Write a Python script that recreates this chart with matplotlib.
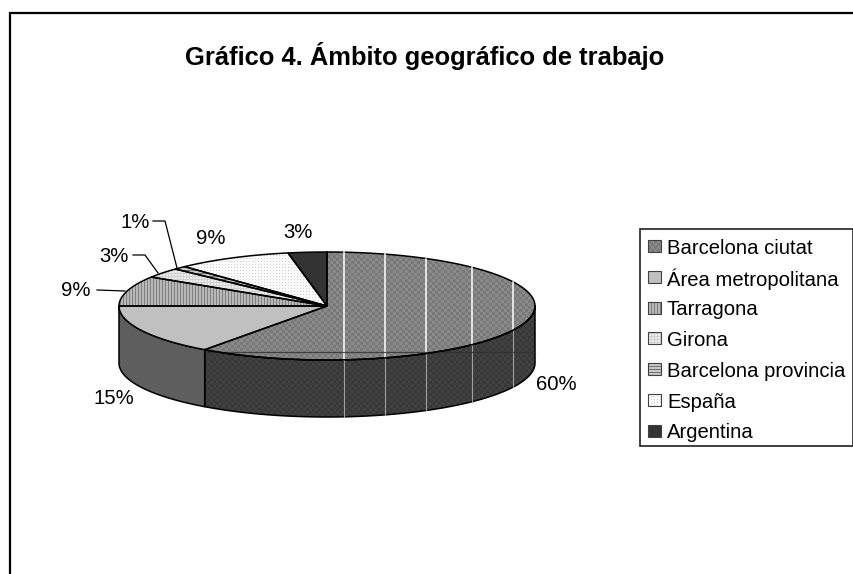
import numpy as np
import matplotlib
matplotlib.use("Agg")
import matplotlib.pyplot as plt
from matplotlib.patches import Polygon, Rectangle

plt.rcParams['font.family'] = ['Liberation Sans', 'DejaVu Sans']

title = 'Gráfico 4. Ámbito geográfico de trabajo'
categories = ['Barcelona ciutat', 'Área metropolitana', 'Tarragona', 'Girona',
              'Barcelona provincia', 'España', 'Argentina']
values = [60, 15, 9, 3, 1, 9, 3]
pct_labels = ['60%', '15%', '9%', '3%', '1%', '9%', '3%']
textures = ['checker', 'solid_light', 'vstripes', 'grid', 'hstripes', 'dots', 'solid_dark']

W, H = 854, 574
cx, cy, rx, ry, depth = 327, 306, 208, 54, 57

fig = plt.figure(figsize=(W / 100, H / 100), dpi=100)
ax = fig.add_axes([0, 0, 1, 1])
ax.set_xlim(0, W)
ax.set_ylim(H, 0)
ax.axis('off')

yy, xx = np.mgrid[0:H, 0:W]


def texture(name, dark=False):
    # pixel patterns, the office-chart fills
    if name == 'checker':
        t = np.where(((xx // 3) + (yy // 3)) % 2 == 0, 0.47, 0.54)
        if dark:
            t = np.where(((xx // 3) + (yy // 3)) % 2 == 0, 0.22, 0.26)
    elif name == 'solid_light':
        t = np.full(xx.shape, 0.75)
    elif name == 'solid_side':
        t = np.full(xx.shape, 0.37)
    elif name == 'vstripes':
        t = np.where(xx % 3 == 0, 0.5, 0.72)
    elif name == 'grid':
        t = np.where((xx % 3 == 0) | (yy % 3 == 0), 0.82, 0.93)
    elif name == 'hstripes':
        t = np.where(yy % 3 == 0, 0.45, 0.78)
    elif name == 'dots':
        t = np.where((xx % 3 == 0) & (yy % 3 == 0), 0.82, 0.98)
    else:
        t = np.full(xx.shape, 0.2)
    return t


def fill(patch, name, dark=False, lw=1.1, edge='black'):
    ax.add_patch(patch)
    patch.set_facecolor('none')
    patch.set_edgecolor('none')
    im = ax.imshow(texture(name, dark), cmap='gray', vmin=0, vmax=1, extent=(0, W, H, 0),
                   interpolation='bilinear', aspect='auto', zorder=patch.get_zorder())
    im.set_clip_path(patch)
    line = Polygon(patch.get_xy(), closed=True, fc='none', ec=edge, lw=lw, zorder=patch.get_zorder() + 0.1)
    ax.add_patch(line)


def rim(a0, a1, dy=0):
    # a is in degrees, clockwise from 12 o'clock
    a = np.radians(np.linspace(a0, a1, 120))
    return np.column_stack([cx + rx * np.sin(a), cy - ry * np.cos(a) + dy])


angles = np.concatenate([[0], np.cumsum(values)]) * 3.6

# side wall, only the front half is seen
for i in range(len(values)):
    a0, a1 = max(angles[i], 90), min(angles[i + 1], 270)
    if a0 >= a1:
        continue
    pts = np.vstack([rim(a0, a1), rim(a0, a1, depth)[::-1]])
    if i == 0:
        fill(Polygon(pts, closed=True, zorder=2), 'checker', dark=True)
    else:
        fill(Polygon(pts, closed=True, zorder=2), 'solid_side')

# top slices
for i in range(len(values)):
    pts = np.vstack([[cx, cy], rim(angles[i], angles[i + 1])])
    fill(Polygon(pts, closed=True, zorder=3), textures[i])

# white vertical lines and the dark one that cross the first slice
band_x = [344, 385, 426, 472, 513]
for x in band_x:
    s = (x - cx) / rx
    y0 = cy - ry * np.sqrt(1 - s ** 2)
    y1 = cy + ry * np.sqrt(1 - s ** 2)
    ax.plot([x, x], [y0, y1], color='white', lw=1.1, zorder=4)
    ax.plot([x, x], [y1, y1 + depth], color='#a0a0a0', lw=0.8, zorder=4)
ax.plot([207, 535], [352, 352], color='#303030', lw=0.9, alpha=0.8, zorder=4)
ax.plot(*rim(90, 216).T, color='black', lw=1.1, zorder=4.5)

# frame, it runs off the picture on the right and at the bottom
ax.plot([10, 10, W + 5], [H + 5, 13, 13], color='black', lw=1.6, solid_joinstyle='miter', zorder=1)

ax.text(425, 56, title, ha='center', va='center', fontsize=18.4, fontweight='bold', color='black')

label_pos = [(556, 385), (114, 398), (76, 290), (114, 256), (135, 223), (211, 238), (298, 233)]
for s, (x, y) in zip(pct_labels, label_pos):
    ax.text(x, y, s, ha='center', va='center', fontsize=14.6, color='black')

leaders = [[(97, 290), (125, 291)],
           [(133, 255), (145, 255), (158, 273)],
           [(153, 221), (165, 221), (177, 268)]]
for pts in leaders:
    ax.plot(*zip(*pts), color='black', lw=0.9, zorder=5)

# legend
ax.add_patch(Rectangle((640, 229), 213, 217, fc='white', ec='#202020', lw=1.2, zorder=2))
for i, c in enumerate(categories):
    y = 246 + i * 30.8
    fill(Polygon([(648, y - 6), (661, y - 6), (661, y + 6), (648, y + 6)], closed=True, zorder=3),
         textures[i], lw=0.8, edge='#404040')
    ax.text(667, y, c, ha='left', va='center_baseline', fontsize=14.6, color='black', zorder=4)

ax.set_xlim(0, W)
ax.set_ylim(H, 0)
fig.savefig('out.png', dpi=100, facecolor='white')
